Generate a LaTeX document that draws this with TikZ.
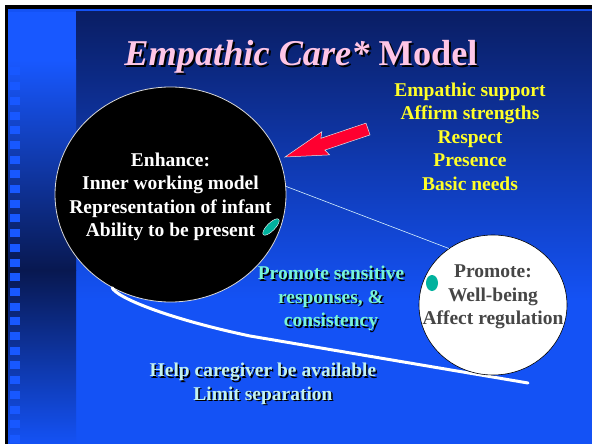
\documentclass[tikz,border=0pt]{standalone}
\usepackage{fontspec}
\setmainfont{Liberation Serif}
\usetikzlibrary{shapes.geometric}

\definecolor{navy}{RGB}{10,30,100}
\definecolor{brightblue}{RGB}{20,82,245}
\definecolor{stripblue}{RGB}{24,88,255}
\definecolor{stripdark}{RGB}{8,24,80}
\definecolor{titlepink}{RGB}{255,198,230}
\definecolor{supportyellow}{RGB}{255,255,40}
\definecolor{aqua}{RGB}{120,245,215}
\definecolor{paleaqua}{RGB}{195,242,238}
\definecolor{darkgray}{RGB}{70,70,70}
\definecolor{leafgreen}{RGB}{0,178,158}
\definecolor{arrowred}{RGB}{255,0,48}

\begin{document}
\begin{tikzpicture}[x=1pt,y=-1pt,
    txt/.style={font=\fontsize{19.5}{23.5}\selectfont\bfseries,align=center,inner sep=0pt},
    titletxt/.style={font=\fontsize{36.3}{40}\selectfont\bfseries,inner sep=0pt,anchor=base},
    bigdisc/.style={ellipse,fill=black,draw=white!85!black,line width=0.8pt,minimum width=231pt,minimum height=215pt,inner sep=0pt},
    smalldisc/.style={ellipse,fill=white,draw=black,line width=0.6pt,minimum width=148pt,minimum height=140pt,inner sep=0pt},
    leaf/.style={ellipse,fill=leafgreen,draw=white,line width=0.4pt,minimum width=22pt,minimum height=8pt,inner sep=0pt},
    dot/.style={ellipse,fill=leafgreen,minimum width=12pt,minimum height=16pt,inner sep=0pt},
    stripsq/.style={fill=stripblue}]
    \useasboundingbox (0,0) rectangle (592,444);
    % frame and background
    \fill[white] (0,0) rectangle (592,444);
    \fill[black] (5,5) rectangle (592,444);
    \fill[brightblue] (8,9) rectangle (592,12);
    \shade[top color=navy,bottom color=brightblue] (76,12) rectangle (592,300);
    \fill[brightblue] (76,299.5) rectangle (592,444);
    \fill[stripblue] (8,12) rectangle (76,60.5);
    \shade[top color=stripblue,bottom color=stripdark] (8,60) rectangle (76,270.5);
    \shade[top color=stripdark,bottom color=brightblue] (8,270) rectangle (76,444);
    \foreach \k in {0,...,27}
        \fill[stripsq] (10,38+14.7*\k) rectangle +(10,8);
    % title
    \node[titletxt,text=black] (titleshadow) at (303,67.7) {\textit{Empathic Care*} Model};
    \node[titletxt,text=titlepink] (title) at (301,65.7) {\textit{Empathic Care*} Model};
    % circles
    \node[bigdisc] (enhance) at (170.5,194.5) {};
    \coordinate (curveend) at (528,383);
    \draw[white,line width=3pt,line cap=round] (enhance.238) .. controls (116,297) and (165,318) .. (250,336) -- (curveend);
    \node[smalldisc] (promote) at (493,305) {};
    \draw[white!85!cyan,line width=0.6pt] (enhance.4) -- (promote.128);
    \node[leaf,rotate=45] (leafmark) at (271,227) {};
    \node[dot] (dotmark) at (432,283) {};
    % red arrow
    \filldraw[fill=arrowred,draw=white!90!black,line width=0.5pt]
        (285,157) -- (321.8,131.7) -- (320.9,138.3) -- (366,123.1) -- (370,134.9) -- (324.9,150.1) -- (329.6,154.9) -- cycle;
    % texts
    \node[txt,text=white] (enhancetxt) at (170.5,197) {Enhance:\\Inner working model\\Representation of infant\\Ability to be present};
    \node[txt,text=darkgray] (promotetxt) at (493,297) {Promote:\\Well-being\\Affect regulation};
    \node[txt,text=supportyellow] (support) at (470,136.5) {Empathic support\\Affirm strengths\\Respect\\Presence\\Basic needs};
    \node[txt,text=black] (sensitiveshadow) at (332.5,300) {Promote sensitive\\responses, \&\\consistency};
    \node[txt,text=aqua] (sensitive) at (331,298.5) {Promote sensitive\\responses, \&\\consistency};
    \node[txt,text=black] (availableshadow) at (264.5,385.4) {Help caregiver be available\\Limit separation};
    \node[txt,text=paleaqua] (available) at (263,383.9) {Help caregiver be available\\Limit separation};
\end{tikzpicture}
\end{document}
